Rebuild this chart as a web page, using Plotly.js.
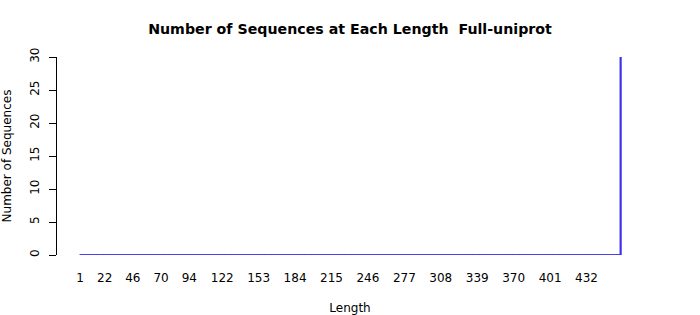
<!DOCTYPE html>
<html>
<head>
<meta charset="utf-8">
<script src="https://cdn.plot.ly/plotly-3.0.1.min.js"></script>
<style>html,body{margin:0;padding:0;background:#fff;}#chart{width:700px;height:315px;}</style>
</head>
<body>
<div id="chart"></div>
<script>
// Sequence lengths (one bar per length)
const lengths = [
1,2,3,4,5,6,7,8,9,10,11,12,13,14,15,16,17,18,19,20,
21,22,23,24,25,26,27,28,29,30,31,32,33,34,35,36,37,38,39,40,
41,42,43,44,45,46,47,48,49,50,51,52,53,54,55,56,57,58,59,60,
61,62,63,64,65,66,67,68,69,70,71,72,73,74,75,76,77,78,79,80,
81,82,83,84,85,86,87,88,89,90,91,92,93,94,95,96,97,98,99,100,
101,102,103,104,105,106,107,108,109,110,111,112,113,114,115,116,117,118,119,120,
121,122,123,124,125,126,127,128,129,130,131,132,133,134,135,136,137,138,139,140,
141,142,143,144,145,146,147,148,149,150,151,152,153,154,155,156,157,158,159,160,
161,162,163,164,165,166,167,168,169,170,171,172,173,174,175,176,177,178,179,180,
181,182,183,184,185,186,187,188,189,190,191,192,193,194,195,196,197,198,199,200,
201,202,203,204,205,206,207,208,209,210,211,212,213,214,215,216,217,218,219,220,
221,222,223,224,225,226,227,228,229,230,231,232,233,234,235,236,237,238,239,240,
241,242,243,244,245,246,247,248,249,250,251,252,253,254,255,256,257,258,259,260,
261,262,263,264,265,266,267,268,269,270,271,272,273,274,275,276,277,278,279,280,
281,282,283,284,285,286,287,288,289,290,291,292,293,294,295,296,297,298,299,300,
301,302,303,304,305,306,307,308,309,310,311,312,313,314,315,316,317,318,319,320,
321,322,323,324,325,326,327,328,329,330,331,332,333,334,335,336,337,338,339,340,
341,342,343,344,345,346,347,348,349,350,351,352,353,354,355,356,357,358,359,360,
361,362,363,364,365,366,367,368,369,370,371,372,373,374,375,376,377,378,379,380,
381,382,383,384,385,386,387,388,389,390,391,392,393,394,395,396,397,398,399,400,
401,402,403,404,405,406,407,408,409,410,411,412,413,414,415,416,417,418,419,420,
421,422,423,424,425,426,427,428,429,430,431,432,433,434,435,436,437,438,439,440,
441,442,443,444,445,446,447,448,449,450,451,452,453,454,455,456,457,458,459,460,
461
];
// Number of sequences at each length
const counts = [
0,0,0,0,0,0,0,0,0,0,0,0,0,0,0,0,0,0,0,0,
0,0,0,0,0,0,0,0,0,0,0,0,0,0,0,0,0,0,0,0,
0,0,0,0,0,0,0,0,0,0,0,0,0,0,0,0,0,0,0,0,
0,0,0,0,0,0,0,0,0,0,0,0,0,0,0,0,0,0,0,0,
0,0,0,0,0,0,0,0,0,0,0,0,0,0,0,0,0,0,0,0,
0,0,0,0,0,0,0,0,0,0,0,0,0,0,0,0,0,0,0,0,
0,0,0,0,0,0,0,0,0,0,0,0,0,0,0,0,0,0,0,0,
0,0,0,0,0,0,0,0,0,0,0,0,0,0,0,0,0,0,0,0,
0,0,0,0,0,0,0,0,0,0,0,0,0,0,0,0,0,0,0,0,
0,0,0,0,0,0,0,0,0,0,0,0,0,0,0,0,0,0,0,0,
0,0,0,0,0,0,0,0,0,0,0,0,0,0,0,0,0,0,0,0,
0,0,0,0,0,0,0,0,0,0,0,0,0,0,0,0,0,0,0,0,
0,0,0,0,0,0,0,0,0,0,0,0,0,0,0,0,0,0,0,0,
0,0,0,0,0,0,0,0,0,0,0,0,0,0,0,0,0,0,0,0,
0,0,0,0,0,0,0,0,0,0,0,0,0,0,0,0,0,0,0,0,
0,0,0,0,0,0,0,0,0,0,0,0,0,0,0,0,0,0,0,0,
0,0,0,0,0,0,0,0,0,0,0,0,0,0,0,0,0,0,0,0,
0,0,0,0,0,0,0,0,0,0,0,0,0,0,0,0,0,0,0,0,
0,0,0,0,0,0,0,0,0,0,0,0,0,0,0,0,0,0,0,0,
0,0,0,0,0,0,0,0,0,0,0,0,0,0,0,0,0,0,0,0,
0,0,0,0,0,0,0,0,0,0,0,0,0,0,0,0,0,0,0,0,
0,0,0,0,0,0,0,0,0,0,0,0,0,0,0,0,0,0,0,0,
0,0,0,0,0,0,0,0,0,0,0,0,0,0,0,0,0,0,0,0,
30
];
// Tick labels shown on the x axis
const xTickLabels = [1, 22, 46, 70, 94, 122, 153, 184, 215, 246, 277, 308, 339, 370, 401, 432];
const yTickValues = [0, 5, 10, 15, 20, 25, 30];

const barColor = '#3c2eea';
const fontFamily = '"DejaVu Sans", "Liberation Sans", sans-serif';

const traces = [
  {
    type: 'bar',
    x: lengths,
    y: counts,
    width: 0.833,
    marker: {color: barColor, line: {color: barColor, width: 1}},
    hoverinfo: 'x+y',
    showlegend: false
  },
  {
    // outlines of the zero-height bars (drawn as a baseline, as in the original)
    type: 'scatter',
    mode: 'lines',
    x: lengths,
    y: counts,
    line: {color: barColor, width: 1.3, shape: 'hv'},
    cliponaxis: false,
    hoverinfo: 'skip',
    showlegend: false
  }
];

const layout = {
  width: 700,
  height: 315,
  paper_bgcolor: '#ffffff',
  plot_bgcolor: '#ffffff',
  font: {family: fontFamily, size: 12, color: '#000'},
  margin: {l: 57, r: 57, t: 57, b: 60, pad: 0},
  title: {
    text: '<b>Number of Sequences at Each Length  Full-uniprot</b>',
    font: {family: fontFamily, size: 14.2, color: '#000'},
    x: 0.5, xanchor: 'center',
    y: 1 - 29 / 315, yref: 'container', yanchor: 'middle'
  },
  xaxis: {
    range: [-18.57, 480.07],
    tickmode: 'array',
    tickvals: xTickLabels,
    ticktext: xTickLabels.map(String),
    ticks: '',
    showline: false,
    showgrid: false,
    zeroline: false,
    ticklabelstandoff: 14,
    tickfont: {family: fontFamily, size: 12, color: '#000'},
    title: {text: 'Length', font: {family: fontFamily, size: 12, color: '#000'}, standoff: 20},
    fixedrange: true
  },
  yaxis: {
    range: [0, 30],
    tickmode: 'array',
    tickvals: yTickValues,
    ticktext: yTickValues.map(String),
    ticks: 'outside',
    ticklen: 7,
    tickwidth: 1,
    tickcolor: '#000',
    showline: true,
    linecolor: '#000',
    linewidth: 1,
    showgrid: false,
    zeroline: false,
    tickangle: -90,
    ticklabelstandoff: 5,
    tickfont: {family: fontFamily, size: 12, color: '#000'},
    title: {text: 'Number of Sequences', font: {family: fontFamily, size: 12, color: '#000'}, standoff: 14},
    fixedrange: true
  },
  bargap: 0
};

Plotly.newPlot('chart', traces, layout, {displayModeBar: false, staticPlot: true});
</script>
</body>
</html>
